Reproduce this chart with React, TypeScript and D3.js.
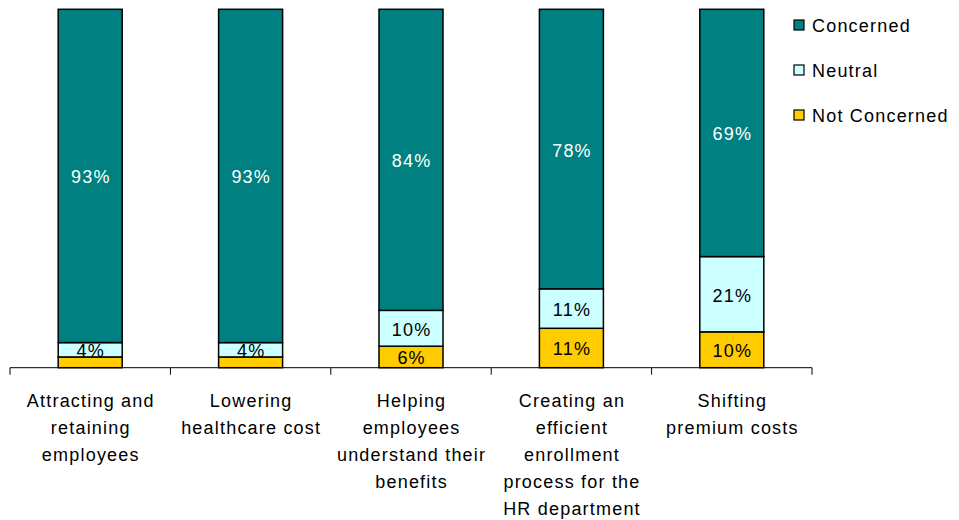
import React from "react";
import * as d3 from "d3";

const categories = [
  ["Attracting and", "retaining", "employees"],
  ["Lowering", "healthcare cost"],
  ["Helping", "employees", "understand their", "benefits"],
  ["Creating an", "efficient", "enrollment", "process for the", "HR department"],
  ["Shifting", "premium costs"],
];
const notConcerned = [3, 3, 6, 11, 10];
const neutral = [4, 4, 10, 11, 21];
const concerned = [93, 93, 84, 78, 69];
const seriesNames = ["Not Concerned", "Neutral", "Concerned"];
const colors = ["#FFCC00", "#CCFFFF", "#008080"];
const labelColors = ["#000", "#000", "#fff"];
const showLabel = [[false, false, true, true, true], [true, true, true, true, true], [true, true, true, true, true]];

export default function App() {
  const W = 959, H = 520;
  const left = 10, right = 812, top = 9.3, bottom = 367.7;
  const idx = categories.map((_, i) => i);
  const x = d3.scaleBand<number>().domain(idx).range([left, right]).paddingInner(0).paddingOuter(0);
  const y = d3.scaleLinear().domain([0, 100]).range([bottom, top]);
  const barW = 64;
  const rows = idx.map((i) => ({ i, nc: notConcerned[i], ne: neutral[i], c: concerned[i] }));
  const stack = d3.stack<any>().keys(["nc", "ne", "c"])(rows);
  const values = [notConcerned, neutral, concerned];
  const font = "'Liberation Sans', Arial, sans-serif";
  const ticks = [...idx.map((i) => x(i)!), right];
  const legendYs = [115, 70, 25];
  const fs = 18;
  const ls = 1.2;
  return (
    <svg width={W} height={H} style={{ position: "absolute", left: 0, top: 0 }} fontFamily={font}>
      {stack.map((s, si) =>
        s.map((d, i) => {
          const cx = x(i)! + x.bandwidth() / 2;
          const y0 = y(d[0]), y1 = y(d[1]);
          return (
            <g key={`${si}-${i}`}>
              <rect x={cx - barW / 2} y={y1} width={barW} height={y0 - y1} fill={colors[si]} stroke="#000" strokeWidth={1.5} />
              {showLabel[si][i] && (
                <text x={cx + ls / 2} y={(y0 + y1) / 2 + 1} dy="0.36em" textAnchor="middle" fontSize={fs} letterSpacing={ls} fill={labelColors[si]}>
                  {values[si][i]}%
                </text>
              )}
            </g>
          );
        })
      )}
      <line x1={left} x2={right} y1={bottom} y2={bottom} stroke="#000" strokeWidth={1} />
      {ticks.map((t, k) => (
        <line key={k} x1={t} x2={t} y1={bottom} y2={bottom + 7} stroke="#000" strokeWidth={1} />
      ))}
      {categories.map((lines, i) => (
        <text key={i} textAnchor="middle" fontSize={fs} letterSpacing={ls} fill="#000">
          {lines.map((l, j) => (
            <tspan key={j} x={x(i)! + x.bandwidth() / 2 + ls / 2} y={407 + j * 27}>
              {l}
            </tspan>
          ))}
        </text>
      ))}
      {seriesNames.map((n, si) => (
        <g key={n}>
          <rect x={794} y={legendYs[si] - 5} width={10} height={10} fill={colors[si]} stroke="#000" strokeWidth={1.2} />
          <text x={812} y={legendYs[si] + 1} dy="0.36em" fontSize={fs} letterSpacing={ls} fill="#000">
            {n}
          </text>
        </g>
      ))}
    </svg>
  );
}
